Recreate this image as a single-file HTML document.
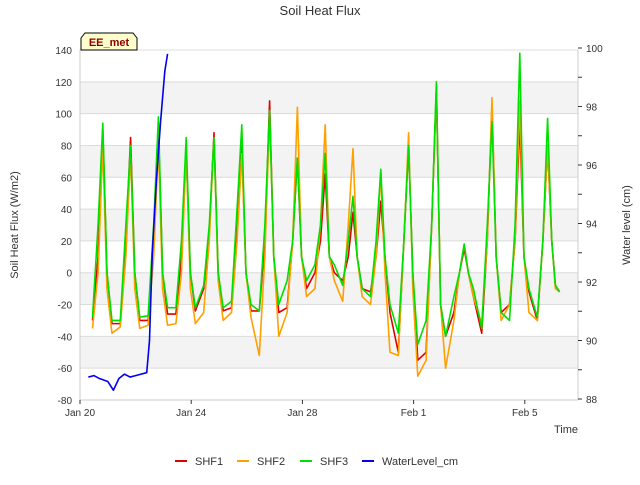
<!DOCTYPE html>
<html><head><meta charset="utf-8"><style>
body{margin:0;background:#fff;font-family:"Liberation Sans",sans-serif}
svg text{font-family:"Liberation Sans",sans-serif}
</style></head><body>
<svg id="c" width="640" height="480" viewBox="0 0 640 480">
<text x="320" y="15" text-anchor="middle" font-size="13" fill="#333">Soil Heat Flux</text>
<g id="bands"></g><g id="grid"></g><g id="axes"></g><g id="series"></g>
<g>
<path d="M81,50 L81,38 L85,33 L133,33 L137,38 L137,50 Z" fill="#ffffcc" stroke="#000"/>
<text x="109" y="46" text-anchor="middle" font-size="11" font-weight="bold" fill="#8b0000">EE_met</text></g>
<text transform="translate(18,225) rotate(-90)" text-anchor="middle" font-size="11" fill="#333">Soil Heat Flux (W/m2)</text>
<text transform="translate(630,225) rotate(-90)" text-anchor="middle" font-size="11" fill="#333">Water level (cm)</text>
<text x="566" y="433" text-anchor="middle" font-size="11" fill="#333">Time</text>
<g id="legend"></g>
</svg>
<script>
const xTickLabels=["Jan 20","Jan 24","Jan 28","Feb 1","Feb 5"];
const xTickDays=[0,4,8,12,16];
const yTicks=[-80,-60,-40,-20,0,20,40,60,80,100,120,140];
const y2Ticks=[88,90,92,94,96,98,100];
const dayOffsets=[0.15,0.45,0.65,0.82,0.97];
const shf1=[[null,-30,10,90,0],[-32,-32,20,85,0],[-30,-30,20,92,0],[-26,-26,10,77,0],[-24,-10,25,88,0],[-24,-22,30,80,0],[-24,-24,20,108,10],[-25,-22,20,72,10],[-10,0,20,62,10],[0,-5,10,38,10],[-10,-12,10,45,10],[-25,-50,20,80,0],[-55,-50,30,115,-20],[-40,-25,0,15,0],[-15,-38,20,105,10],[-25,-20,20,95,10],[-12,-30,20,80,20]];
const shf2=[[null,-35,0,80,-10],[-38,-34,10,75,-10],[-35,-33,10,80,-10],[-33,-32,0,77,-10],[-32,-25,20,85,-5],[-30,-25,20,75,0],[-28,-52,10,100,10],[-40,-25,20,104,10],[-15,-10,30,93,10],[-5,-18,30,78,10],[-15,-20,10,62,0],[-50,-52,20,88,-10],[-65,-55,30,118,-20],[-60,-30,0,18,0],[-15,-32,20,110,10],[-30,-20,20,108,10],[-25,-30,20,80,20]];
const shf3=[[null,-28,30,94,0],[-30,-30,30,80,0],[-28,-27,30,98,0],[-22,-22,20,85,0],[-22,-8,30,85,0],[-22,-18,40,93,0],[-20,-24,30,102,10],[-20,-5,20,72,10],[-5,5,30,75,10],[5,-8,20,48,10],[-10,-15,20,65,10],[-20,-38,20,80,0],[-45,-30,30,120,-20],[-40,-15,0,18,0],[-10,-35,30,95,10],[-25,-30,30,138,10],[-10,-28,20,97,20]];
const tailTimes=[17.1,17.25];
const shf1Tail=[-8,-12],shf2Tail=[-10,-12],shf3Tail=[-8,-12];
const wlTimes=[0.3,0.5,0.7,1.0,1.2,1.4,1.6,1.8,2.0,2.2,2.4,2.5,2.6,2.75,2.9,3.05,3.15];
const wlValues=[88.75,88.8,88.7,88.6,88.3,88.7,88.85,88.75,88.8,88.85,88.9,90,93,95.5,97.5,99.2,99.8];
const NS="http://www.w3.org/2000/svg";
const L=80,R=578,T=50,B=400;
const X=d=>80+d*27.8;
const Y=v=>T+(140-v)*(B-T)/220;
const Y2=v=>48+(100-v)*29.25;
function mk(p,tag,a){const e=document.createElementNS(NS,tag);for(const k in a)e.setAttribute(k,a[k]);p.appendChild(e);return e;}
const bands=document.getElementById('bands'),grid=document.getElementById('grid'),axes=document.getElementById('axes'),series=document.getElementById('series');
for(let v=-60;v<140;v+=40){const r=mk(bands,'rect',{x:L,y:Y(v+20),width:R-L,height:Y(v)-Y(v+20),fill:'#f3f3f3'});

}
yTicks.forEach(v=>{const l=mk(grid,'line',{x1:L,x2:R,y1:Y(v),y2:Y(v),stroke:'#dcdcdc'});


const t=mk(axes,'text',{x:L-8,y:Y(v)+4,'text-anchor':'end','font-size':10,fill:'#333'});t.textContent=v;

});
mk(axes,'line',{x1:L,x2:L,y1:T,y2:B,stroke:'#ccc'});
mk(axes,'line',{x1:L,x2:R,y1:B,y2:B,stroke:'#ccc'});
mk(axes,'line',{x1:R,x2:R,y1:T,y2:B,stroke:'#ccc'});
for(let v=88;v<=100;v++){mk(axes,'line',{x1:R,x2:R+4,y1:Y2(v),y2:Y2(v),stroke:'#333'});}
y2Ticks.forEach(v=>{const t=mk(axes,'text',{x:R+8,y:Y2(v)+4,'font-size':10,fill:'#333'});t.textContent=v;

});
xTickDays.forEach((d,i)=>{mk(axes,'line',{x1:X(d),x2:X(d),y1:B,y2:B+4,stroke:'#333'});
const t=mk(axes,'text',{x:X(d),y:B+16,'text-anchor':'middle','font-size':10,fill:'#333'});t.textContent=xTickLabels[i];

});
function build(arr,tail){const pts=[];arr.forEach((day,d)=>{day.forEach((v,j)=>{if(v!==null)pts.push([X(d+dayOffsets[j]),Y(v)]);});});
tail.forEach((v,i)=>pts.push([X(tailTimes[i]),Y(v)]));return pts;}
function line(pts,color,name){const p=mk(series,'polyline',{points:pts.map(q=>q.join(',')).join(' '),fill:'none',stroke:color,'stroke-width':1.6,'stroke-linejoin':'round'});

}
line(build(shf1,shf1Tail),'#e00000','shf1-line');
line(build(shf2,shf2Tail),'#ff9f00','shf2-line');
line(build(shf3,shf3Tail),'#00e000','shf3-line');
line(wlTimes.map((t,i)=>[X(t),Y2(wlValues[i])]),'#0000ee','waterlevel-line');
const lg=document.getElementById('legend');
const items=[["SHF1","#e00000",175],["SHF2","#ff9f00",237],["SHF3","#00e000",300],["WaterLevel_cm","#0000ee",362]];
items.forEach(it=>{const g=mk(lg,'g',{});


mk(g,'line',{x1:it[2],x2:it[2]+12,y1:461,y2:461,stroke:it[1],'stroke-width':2});
const t=mk(g,'text',{x:it[2]+20,y:465,'font-size':11,fill:'#333'});t.textContent=it[0];});
</script>
</body></html>
